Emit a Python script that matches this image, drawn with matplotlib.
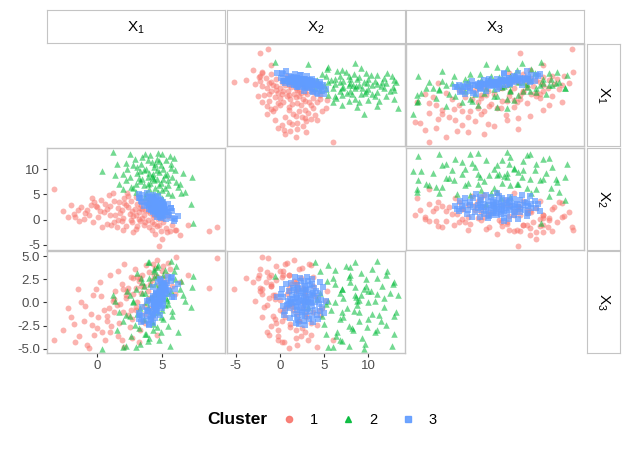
import matplotlib
matplotlib.use("Agg")
import matplotlib.pyplot as plt
from matplotlib.lines import Line2D

plt.rcParams['font.family'] = ['Liberation Sans', 'DejaVu Sans']
plt.rcParams['axes.unicode_minus'] = False

# (X1, X2, X3) for each cluster
cluster1 = [
    (-3.3, 6.0, -4.0), (9.2, -1.4, 4.8), (8.6, -2.3, 1.6), (4.8, -5.2, 1.5),
    (5.0, -3.9, 2.6), (6.1, -2.0, 4.9), (-0.6, 1.0, -4.9), (-1.7, 0.5, -4.3),
    (-0.8, 2.0, -4.6), (-0.2, 3.5, -3.5), (-2.6, 1.8, -3.0), (-2.2, 0.6, -0.6),
    (-1.5, 1.9, 1.5), (-1.0, 0.2, -2.0), (-0.5, 3.0, -1.2), (0.0, 2.5, -2.8),
    (0.3, 4.0, 0.7), (0.5, 1.5, -0.8), (0.8, -0.8, -1.5), (1.0, 2.8, -3.2),
    (1.2, 5.2, 0.2), (1.4, 1.0, 1.2), (1.5, -1.5, -0.3), (1.7, 3.5, -2.2),
    (1.9, 2.0, 2.0), (2.0, 0.3, -1.0), (2.1, 4.2, -4.8), (2.2, -1.2, 0.5),
    (2.4, 2.6, 1.6), (2.5, 1.2, -2.6), (2.6, 3.8, 2.8), (2.7, -0.5, -1.8),
    (2.8, 0.8, 0.9), (2.9, 2.2, 3.6), (3.0, -1.8, -0.5), (3.1, 3.1, 0.0),
    (3.2, 1.6, 2.3), (3.3, -0.2, -3.0), (3.4, 2.9, 1.0), (3.5, 0.4, 3.0),
    (3.6, -1.0, 1.8), (3.7, 1.9, -1.2), (3.8, 3.5, 4.0), (3.9, 0.0, 0.3),
    (4.0, -1.5, 3.3), (4.1, 1.3, 2.0), (4.2, -2.0, -1.6), (4.3, 0.6, 4.2),
    (4.4, -0.8, 0.8), (4.5, 2.5, 3.7), (4.6, -1.2, -3.5), (4.7, 0.2, 2.8),
    (4.9, -2.2, 1.2), (5.1, -0.4, 3.9), (5.3, -1.6, 2.2), (5.5, 0.8, 4.3),
    (5.8, -1.0, 1.8), (6.0, -2.0, 0.9), (-1.8, 1.2, -2.3), (-0.3, -0.5, 0.8),
    (0.6, 3.2, -4.0), (1.1, -1.0, -2.5), (2.3, 5.3, 1.2), (3.0, 4.5, -0.8),
    (1.6, 0.0, 3.4), (0.2, 1.8, 2.2), (-1.2, 2.6, 0.0), (2.8, -2.5, 2.6),
    (3.5, 2.2, -2.0), (4.0, 3.0, 0.5),
    (0.8, 2.2, -2.0), (1.3, 3.8, -1.0), (1.8, 1.4, -0.2), (2.2, 2.9, 0.8),
    (2.6, 0.0, -0.8), (3.0, 1.0, 1.6), (3.3, 2.4, 2.6), (3.6, 0.9, -0.4),
    (3.9, 1.8, 1.2), (4.2, -0.4, 2.4), (4.4, 1.0, 3.0), (4.8, -1.0, 2.0),
    (5.0, 0.4, 3.4), (5.4, -2.4, 3.0), (-2.0, 3.0, -1.6), (-1.4, -0.2, -3.6),
    (-0.9, 1.4, -0.4), (-0.4, 4.2, -2.4), (0.1, 0.6, -1.6), (0.4, -1.5, -3.2),
    (0.9, 4.8, -0.6), (1.3, -0.5, 0.4), (1.6, 2.4, -3.6), (2.0, -2.0, 1.4),
    (2.4, 4.6, -1.4), (2.7, 1.8, -3.8), (3.1, -1.2, 2.8), (3.4, 3.8, 1.8),
    (3.7, -0.4, -2.2), (4.1, 2.6, -0.6), (4.5, -2.8, 0.2), (5.6, -2.2, 3.6),
    (6.4, -3.0, 2.2), (7.0, -1.0, 3.0), (1.0, 1.0, 3.0), (-0.1, 2.8, 1.5),
    (2.1, 3.3, 4.2), (3.2, 0.2, -4.3), (1.9, -0.2, -4.0), (4.6, 1.6, 4.6),
]

cluster2 = [
    (1.2, 13.4, 0.8), (7.4, -0.6, 2.9), (7.2, 3.2, -0.5), (2.0, 6.0, -4.8),
    (0.4, 9.6, -5.0), (4.6, 8.0, 3.8), (4.4, 10.5, 3.6), (4.7, 5.5, 4.0),
    (5.7, 11.0, 4.5), (6.1, 7.5, 3.9), (7.3, 8.5, 1.7), (5.6, 12.7, -4.7),
    (3.3, 9.7, -4.5), (2.2, 7.9, -4.7), (3.0, 5.5, -4.8), (4.0, 4.0, 4.4),
    (3.9, 8.5, 4.4), (2.5, 13.0, -1.5), (3.5, 12.5, 1.0), (4.2, 11.5, -2.0),
    (5.0, 13.0, 2.2), (3.8, 10.0, 0.0), (4.3, 9.0, -1.0), (4.8, 9.5, 1.5),
    (5.2, 8.8, -0.3), (4.1, 7.2, 0.5), (3.6, 6.8, -1.8), (4.5, 6.3, 2.0),
    (5.0, 5.8, -0.8), (5.5, 6.8, 1.0), (3.2, 8.2, -2.8), (2.8, 10.8, 0.2),
    (4.9, 10.8, -3.2), (5.3, 11.8, 0.5), (6.0, 9.8, 2.5), (6.5, 5.3, 2.3),
    (6.8, 5.5, 0.2), (5.8, 4.8, -1.5), (3.0, 7.0, 1.5), (2.0, 9.0, -2.0),
    (1.5, 11.0, -3.0), (4.6, 12.0, 3.0), (3.4, 11.0, 2.6), (4.0, 9.3, -3.8),
    (5.5, 7.8, -2.5), (4.3, 5.0, -2.3), (3.7, 4.5, 1.0), (5.1, 8.0, 3.0),
    (6.2, 6.5, -3.2), (2.5, 8.5, 0.8), (4.8, 6.8, -4.0), (3.9, 11.8, -0.5),
    (5.7, 10.3, 1.2), (4.4, 7.8, 2.8), (3.1, 9.2, 3.2),
    (4.2, 8.6, 0.6), (3.6, 9.8, 1.8), (4.9, 7.2, -1.6), (5.4, 9.0, 0.3),
    (3.3, 7.6, -0.6), (4.5, 11.0, 0.9), (4.0, 6.0, 2.6), (5.8, 8.4, -0.9),
    (2.9, 12.0, -2.4), (4.7, 13.2, -1.0), (5.1, 10.0, -1.8), (3.8, 5.2, -3.4),
    (6.4, 7.0, 1.4), (2.6, 6.4, -3.6), (4.4, 4.6, 3.4), (5.9, 12.2, 3.4),
    (3.5, 8.0, 2.2), (4.6, 9.9, -2.6), (5.2, 6.2, 3.5), (3.1, 10.4, -1.2),
    (4.1, 12.8, 2.0), (6.6, 9.2, 0.8), (3.9, 7.0, -4.2), (2.3, 10.0, 1.2),
    (5.0, 4.2, 0.4), (4.3, 8.3, -3.0), (5.5, 5.2, -0.2), (3.7, 13.0, -3.4),
    (4.8, 11.6, 1.8), (2.8, 6.2, 0.0), (1.7, 7.0, -1.0), (1.4, 8.8, 0.2),
    (2.2, 11.2, -1.4),
]

cluster3 = [
    (4.76, 2.6, 0.2), (4.50, 1.8, -0.5), (4.84, 3.4, 0.8), (5.01, 2.2, 1.2),
    (4.20, 3.0, -1.0), (4.87, 1.2, 0.4), (4.40, 4.0, 0.0), (5.17, 2.9, 1.8),
    (4.12, 2.0, -1.6), (4.41, 3.7, -0.4), (5.31, 1.5, 1.6), (4.59, 2.4, -0.2),
    (4.94, 3.2, 2.3), (5.11, 0.8, -0.3), (4.53, 4.5, 1.0), (3.60, 2.7, -2.0),
    (5.25, 1.9, 0.9), (4.42, 3.5, 0.3), (5.70, 2.3, 2.6), (3.30, 4.2, -1.3),
    (5.51, 1.0, 1.2), (4.37, 3.1, -0.7), (4.61, 2.1, 0.1), (5.80, 0.4, 0.6),
    (3.50, 4.8, -0.5), (4.88, 2.8, 1.1), (4.29, 1.6, -1.2), (4.91, 3.9, 1.6),
    (4.34, 2.5, -1.3), (5.41, 1.3, 2.1), (4.09, 3.3, -1.8), (5.27, 2.0, 1.9),
    (4.33, 4.3, 0.5), (4.63, 0.6, -0.9), (5.10, 3.6, 2.0), (4.52, 2.6, -0.6),
    (4.72, 1.4, -0.1), (4.88, 3.0, 0.6), (3.20, 5.0, -1.1), (4.01, 2.2, -2.3),
    (5.80, 1.7, 2.8), (3.40, 3.8, -2.1), (6.00, 0.2, 1.5), (4.35, 2.9, -0.1),
    (5.06, 2.4, 0.7), (4.71, 4.6, 2.2), (4.47, 1.1, -1.7), (3.93, 3.4, -0.9),
    (5.05, 2.0, 0.5), (4.97, 3.2, 1.4), (4.68, 1.7, 0.0), (4.79, 4.1, 1.2),
    (5.16, 2.7, 2.1), (5.09, 0.9, 0.2), (3.50, 3.6, -1.5), (4.53, 2.3, -1.0),
    (4.19, 4.4, -0.2), (4.99, 1.4, 0.8), (4.75, 2.8, 0.0), (5.50, 3.1, 2.7),
    (4.54, 1.9, -0.8), (4.29, 3.9, 0.7), (4.86, 0.5, -1.4), (5.18, 2.5, 1.5),
    (4.02, 4.7, 0.3), (4.97, 1.2, -0.6), (4.41, 3.3, 0.1), (4.16, 2.1, -1.9),
    (4.88, 3.7, 2.5), (6.20, 0.7, 2.0), (5.00, 2.6, 1.0), (3.86, 4.0, -0.8),
    (5.44, 1.6, 1.3), (4.36, 3.0, -0.3), (4.79, 2.2, 0.3), (4.34, 4.9, 1.7),
    (4.29, 1.8, -2.2), (4.45, 3.5, -0.1), (4.91, 0.3, -0.4), (4.93, 2.7, 0.5),
    (4.55, 3.8, 1.0), (5.00, 1.5, 0.4), (3.88, 2.9, -1.5), (5.70, 2.4, 2.3),
    (3.20, 4.3, -1.8), (4.79, 1.0, -0.2), (4.77, 3.2, 0.4), (4.58, 2.0, -0.4),
    (4.97, 3.4, 1.9), (5.30, 0.1, 0.9), (4.54, 2.5, -0.8), (3.96, 4.5, -0.9),
    (4.81, 1.3, 0.1), (4.03, 2.8, -2.4), (4.57, 3.6, 0.9), (5.21, 2.1, 1.6),
    (5.90, -0.3, 0.6), (3.86, 5.2, 0.2), (5.04, 3.0, 1.3), (4.88, 1.8, 0.6),
]

var_labels = [r'$\mathregular{X_1}$', r'$\mathregular{X_2}$', r'$\mathregular{X_3}$']
cluster_names = ['1', '2', '3']
colors = ['#F8766D', '#00BA38', '#619CFF']
markers = ['o', '^', 's']
sizes = [18, 22, 16]
alphas = [0.55, 0.55, 0.7]

limits = [(-3.85, 9.85), (-6.0, 14.2), (-5.45, 5.55)]
ticks = {1: [-5, 0, 5, 10], 2: [-5, -2.5, 0, 2.5, 5]}
tick_labels = {1: ['-5', '0', '5', '10'], 2: ['-5.0', '-2.5', '0.0', '2.5', '5.0']}
xticks = {0: [0, 5], 1: [-5, 0, 5, 10]}

W, H = 630, 450
fig = plt.figure(figsize=(6.3, 4.5), dpi=100)

col_left = [47, 227, 406]
row_top = [44, 148, 251]
pw, ph = 178, 102
border = '#C4C4C4'


def px_axes(x, y, w, h):
    return fig.add_axes([x / W, 1 - (y + h) / H, w / W, h / H])


clusters = [list(zip(*c)) for c in (cluster1, cluster2, cluster3)]

for i in range(3):
    for j in range(3):
        if i == j:
            continue
        ax = px_axes(col_left[j], row_top[i], pw, ph)
        for k, cl in enumerate(clusters):
            ax.scatter(cl[j], cl[i], s=sizes[k], c=colors[k], marker=markers[k],
                       alpha=alphas[k], linewidths=0)
        ax.set_xlim(limits[j])
        ax.set_ylim(limits[i])
        for sp in ax.spines.values():
            sp.set_color(border)
            sp.set_linewidth(1.0)
        ax.tick_params(colors='#333333', labelcolor='#4D4D4D', labelsize=9.5,
                       length=3, width=0.8, pad=2)
        if j == 0:
            ax.set_yticks(ticks[i])
            ax.set_yticklabels(tick_labels[i])
        else:
            ax.set_yticks([])
        if i == 2:
            ax.set_xticks(xticks[j])
            ax.set_xticklabels([str(t) for t in xticks[j]])
        else:
            ax.set_xticks([])

# strips
for j in range(3):
    s = px_axes(col_left[j], 10, pw, 33)
    s.set_xticks([])
    s.set_yticks([])
    for sp in s.spines.values():
        sp.set_color(border)
    s.text(0.5, 0.45, var_labels[j], ha='center', va='center', fontsize=11,
           transform=s.transAxes)

for i in range(3):
    s = px_axes(587, row_top[i], 33, ph)
    s.set_xticks([])
    s.set_yticks([])
    for sp in s.spines.values():
        sp.set_color(border)
    s.text(0.5, 0.5, var_labels[i], ha='center', va='center', fontsize=11,
           rotation=-90, transform=s.transAxes)

# legend
fig.text(207 / W, 1 - 420 / H, 'Cluster', fontsize=12.5, fontweight='bold',
         ha='left', va='center')
handles = [Line2D([], [], linestyle='none', marker=markers[k], color=colors[k],
                  markersize=4.5 if k != 1 else 5, alpha=0.9)
           for k in range(3)]
fig.legend(handles, cluster_names, loc='center left',
           bbox_to_anchor=(282 / W, 1 - 420 / H), ncol=3, frameon=False,
           fontsize=10.5, handlelength=1.0, handletextpad=0.9, columnspacing=1.6,
           borderpad=0, borderaxespad=0)

fig.savefig('out.png', dpi=100, facecolor='white')
